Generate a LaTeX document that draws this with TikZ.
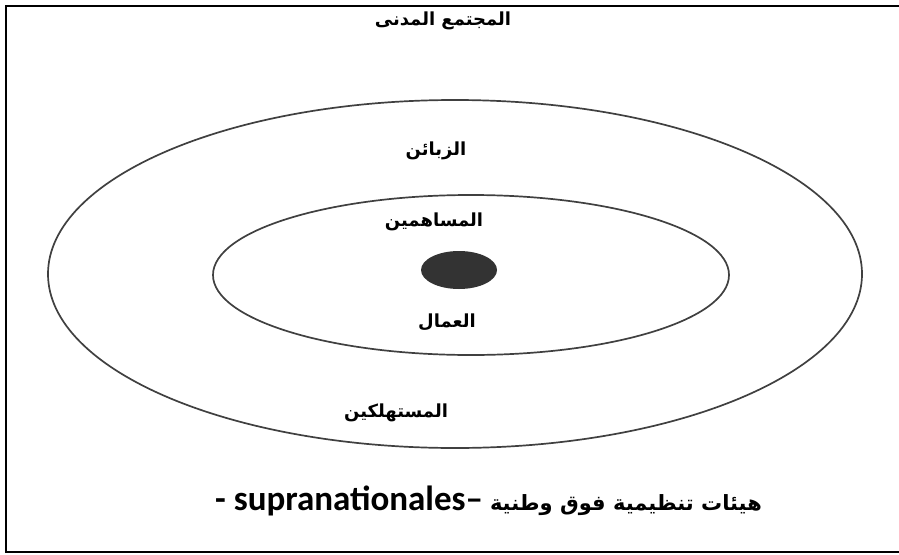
\documentclass[tikz,border=0pt]{standalone}
\usepackage{fontspec}
\TeXXeTstate=1
\newfontfamily\arabicfont[Script=Arabic]{DejaVu Sans}
\newfontfamily\latinfont{Carlito}
\begin{document}
\begin{tikzpicture}[x=1pt,y=-1pt,
  ring/.style={draw=black!75, line width=1.7pt},
  lbl/.style={inner sep=0pt, font=\arabicfont\bfseries\fontsize{18}{22}\selectfont}]
\useasboundingbox (0,0) rectangle (899,554);
\clip (0,0) rectangle (899,554);
\fill[white] (0,0) rectangle (899,554);
\draw[line width=2.8pt] (905,6) -- (6,6) -- (6,552) -- (905,552);
\draw[ring] (455,274) ellipse [x radius=407, y radius=174];
\draw[ring] (471,275) ellipse [x radius=258, y radius=80];
\fill[black!80] (459,270) ellipse [x radius=38, y radius=19];
\node[lbl] (civil) at (443,21) {\beginR المجتمع المدنى\endR};
\node[lbl] (clients) at (436,151) {\beginR الزبائن\endR};
\node[lbl] (share) at (434,222) {\beginR المساهمين\endR};
\node[lbl] (workers) at (447,322) {\beginR العمال\endR};
\node[lbl] (consumers) at (396,413) {\beginR المستهلكين\endR};
\node[inner sep=0pt, anchor=west] (supra) at (215,501)
  {{\latinfont\bfseries\fontsize{35}{38}\selectfont - supranationales–}\hspace{7pt}{\arabicfont\bfseries\fontsize{21}{24}\selectfont\beginR هيئات تنظيمية فوق وطنية\endR}};
\end{tikzpicture}
\end{document}
